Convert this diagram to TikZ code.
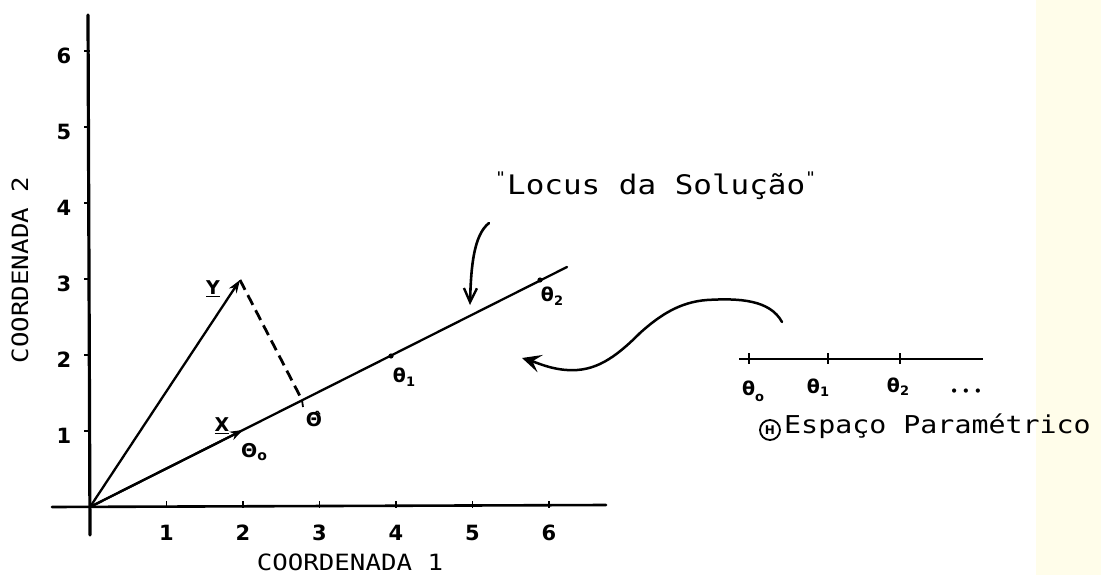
\documentclass[tikz,border=0pt]{standalone}
\usepackage{fontspec}
\newfontfamily\tw[FakeStretch=1.15]{DejaVu Sans Mono}
\newfontfamily\hw{DejaVu Sans}
\usetikzlibrary{arrows.meta}
\definecolor{band}{RGB}{255,253,234}
\begin{document}
\begin{tikzpicture}[x=1pt,y=-1pt,
  ax/.style={line width=3.2pt,line cap=round},
  ln/.style={line width=2.3pt,line cap=round},
  tk/.style={line width=1.8pt},
  num/.style={font=\hw\bfseries\fontsize{21}{21}\selectfont, inner sep=0pt},
  lbl/.style={font=\hw\bfseries\fontsize{19}{19}\selectfont, inner sep=0pt},
  typed/.style={inner sep=0pt},
  vec/.style={ln,-{Stealth[length=13pt,width=9pt]}},
]
\useasboundingbox (0,0) rectangle (1101,575);
\fill[band] (1036,0) rectangle (1101,575);

% axes
\coordinate (ytop) at (88,15);
\coordinate (ybot) at (90,535);
\coordinate (xl) at (52,507);
\coordinate (xr) at (606,505);
\draw[ax] (ytop) -- (ybot);
\draw[line width=2.6pt,line cap=round] (xl) -- (xr);

% ticks
\foreach \k in {1,...,6}{
  \draw[tk] (84,{507-76*\k}) -- (90,{507-76*\k});
  \draw[tk] ({90+76.5*\k},501) -- ({90+76.5*\k},508);
}
% tick labels
\foreach \k in {1,...,6}{
  \node[num] (yl\k) at (64,{512-76*\k}) {\k};
  \node[num] (xl\k) at ({90+76.5*\k},533) {\k};
}

% axis titles
\node[typed,font=\tw\fontsize{22.4}{26}\selectfont,anchor=base] (c1) at (350,570) {COORDENADA 1};
\node[typed,font=\tw\fontsize{22.4}{26}\selectfont,rotate=90,anchor=base] (c2) at (28,270) {COORDENADA 2};

% points
\coordinate (O) at (90,507);
\coordinate (Ytip) at (240,280);
\coordinate (Xtip) at (243,430);
\coordinate (That) at (302,400);
\coordinate (T1) at (391,356);
\coordinate (T2) at (540,280);
\coordinate (Lend) at (567,267);

% locus line and vectors
\draw[ln] (O) -- (Lend);
\draw[vec] (O) -- (Xtip);
\draw[vec] (O) -- (Ytip);
\draw[line width=2.8pt,dash pattern=on 11pt off 6pt] (Ytip) -- (That);
\draw[tk] (That) -- ++(1,7);
\fill (T1) circle (2.6pt);
\fill (T2) circle (2.6pt);

% labels on plot
\node[lbl] (ylab) at (213,289) {\underline{Y}};
\node[lbl] (xlab) at (222,426) {\underline{X}};
\node[lbl] (th0) at (254,452) {Θ\raisebox{-3pt}{\fontsize{14}{14}\selectfont o}};
\node[lbl] (thh) at (314,419) {Θ̂};
\node[lbl] (th1) at (404,377) {θ\raisebox{-4pt}{\fontsize{13}{13}\selectfont 1}};
\node[lbl] (th2) at (552,296) {θ\raisebox{-4pt}{\fontsize{13}{13}\selectfont 2}};

% locus text and arrow
\node[typed,font=\tw\fontsize{26.9}{30}\selectfont,anchor=base west] (locus) at (507,195)
  {\llap{\raisebox{12pt}{\fontsize{16}{16}\selectfont"}\hspace{1pt}}Locus da Solução\rlap{\raisebox{12pt}{\fontsize{16}{16}\selectfont"}}};
\coordinate (lstart) at (489,223);
\coordinate (lhit) at (470,305);
\draw[line width=2.6pt,line cap=round,-{Straight Barb[length=14pt,width=13pt,line width=2.4pt]}]
  (lstart) .. controls (474,235) and (471,265) .. (lhit);

% parametric space
\coordinate (p0) at (739,359);
\coordinate (p1) at (983,359);
\draw[line width=2pt] (p0) -- (p1);
\foreach \xx in {749,828,900}{\draw[tk] (\xx,353) -- (\xx,364);}
\node[lbl] (q0) at (753,391) {θ\raisebox{-6pt}{\fontsize{13}{13}\selectfont o}};
\node[lbl] (q1) at (818,388) {θ\raisebox{-3pt}{\fontsize{13}{13}\selectfont 1}};
\node[lbl] (q2) at (898,387) {θ\raisebox{-3pt}{\fontsize{13}{13}\selectfont 2}};
\node[lbl,font=\hw\bfseries\fontsize{12}{12}\selectfont] (dots) at (966,392) {• • •};
\node[draw,circle,line width=1.8pt,minimum size=20pt,inner sep=0pt,font=\hw\bfseries\fontsize{12}{12}\selectfont] (thsym) at (770,430) {H};
\node[typed,font=\tw\fontsize{24.6}{28}\selectfont,anchor=base west] (esp) at (784,433) {Espaço Paramétrico};

% wavy arrow
\coordinate (wstart) at (782,322);
\coordinate (wend) at (522,358);
\draw[line width=2.5pt,line cap=round,-{Stealth[length=19pt,width=18pt,inset=8pt]}]
  (wstart) .. controls (770,300) and (740,298) .. (707,300)
  .. controls (680,302) and (660,315) .. (640,333)
  .. controls (615,358) and (595,372) .. (567,370)
  .. controls (550,369) and (535,362) .. (wend);
\end{tikzpicture}
\end{document}
